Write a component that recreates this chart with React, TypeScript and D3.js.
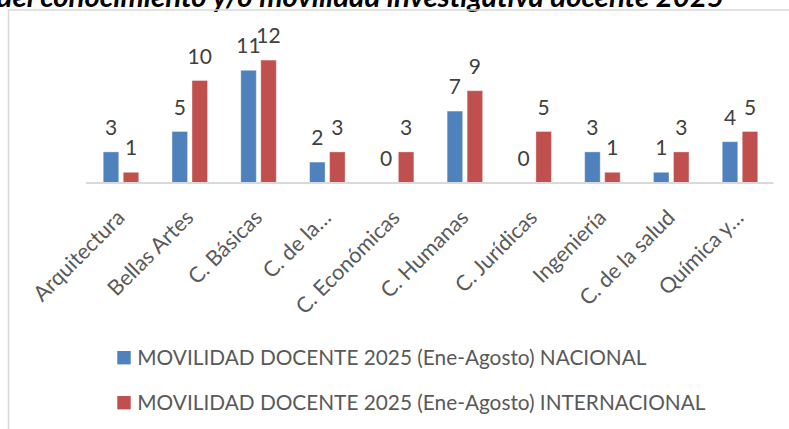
import React from 'react';
import * as d3 from 'd3';

const categories = ['Arquitectura', 'Bellas Artes', 'C. Básicas', 'C. de la…', 'C. Económicas', 'C. Humanas', 'C. Jurídicas', 'Ingeniería', 'C. de la salud', 'Química y…'];
const nacional = [3, 5, 11, 2, 0, 7, 0, 3, 1, 4];
const internacional = [1, 10, 12, 3, 3, 9, 5, 1, 3, 5];
const seriesNames = ['MOVILIDAD DOCENTE 2025 (Ene-Agosto) NACIONAL', 'MOVILIDAD DOCENTE 2025 (Ene-Agosto) INTERNACIONAL'];
const seriesColors = ['#4F81BD', '#C0504D'];
const titleText = 'Movilidad docente por área del conocimiento y/o movilidad investigativa docente 2025';

const W = 789;
const H = 429;
const FONT = "Lato, 'Open Sans', sans-serif";

export default function App() {
  const x = d3.scaleBand<string>().domain(categories).range([86.6, 774.4]).paddingInner(0.484).paddingOuter(0.242);
  const xs = d3.scaleBand<string>().domain(['n', 'i']).range([0, x.bandwidth()]).paddingInner(0.225).paddingOuter(0);
  const y = d3.scaleLinear().domain([0, 12]).range([182.5, 60.1]);
  const series = [nacional, internacional];
  const keys = ['n', 'i'];

  return (
    <svg width={W} height={H} style={{ position: 'absolute', left: 0, top: 0, background: '#fff' }} fontFamily={FONT}>
      <rect x={0} y={0} width={W} height={H} fill="#fff" />
      <text x={724} y={7} textAnchor="end" fontWeight="bold" fontStyle="italic" fontSize={29.4} fill="#000">{titleText}</text>
      <rect x={8.5} y={10} width={W + 20} height={H + 20} fill="none" stroke="#d9d9d9" strokeWidth={1.5} />
      {categories.map((c, ci) => (
        <g key={c}>
          {series.map((s, si) => {
            const bx = (x(c) as number) + (xs(keys[si]) as number);
            const v = s[ci];
            return (
              <g key={si}>
                {v > 0 && (
                  <rect x={bx} y={y(v)} width={xs.bandwidth()} height={y(0) - y(v)} fill={seriesColors[si]} stroke="#ffffff" strokeOpacity={0.35} strokeWidth={1} />
                )}
                <text x={bx + xs.bandwidth() / 2} y={y(v) - 17} textAnchor="middle" fontSize={21} fill="#404040">{v}</text>
              </g>
            );
          })}
        </g>
      ))}
      <line x1={86} x2={773.5} y1={183} y2={183} stroke="#d9d9d9" strokeWidth={2} />
      {categories.map((c) => {
        const cx = (x(c) as number) + x.bandwidth() / 2;
        return (
          <text key={c} transform={`translate(${cx + 5},${219}) rotate(-45)`} textAnchor="end" fontSize={21.5} fill="#595959">{c}</text>
        );
      })}
      {seriesNames.map((n, i) => (
        <g key={n} transform={`translate(117.3,${351 + i * 45})`}>
          <rect x={0} y={0} width={13.4} height={13.4} fill={seriesColors[i]} />
          <text x={20} y={13.6} fontSize={20.8} fill="#595959">{n}</text>
        </g>
      ))}
    </svg>
  );
}
